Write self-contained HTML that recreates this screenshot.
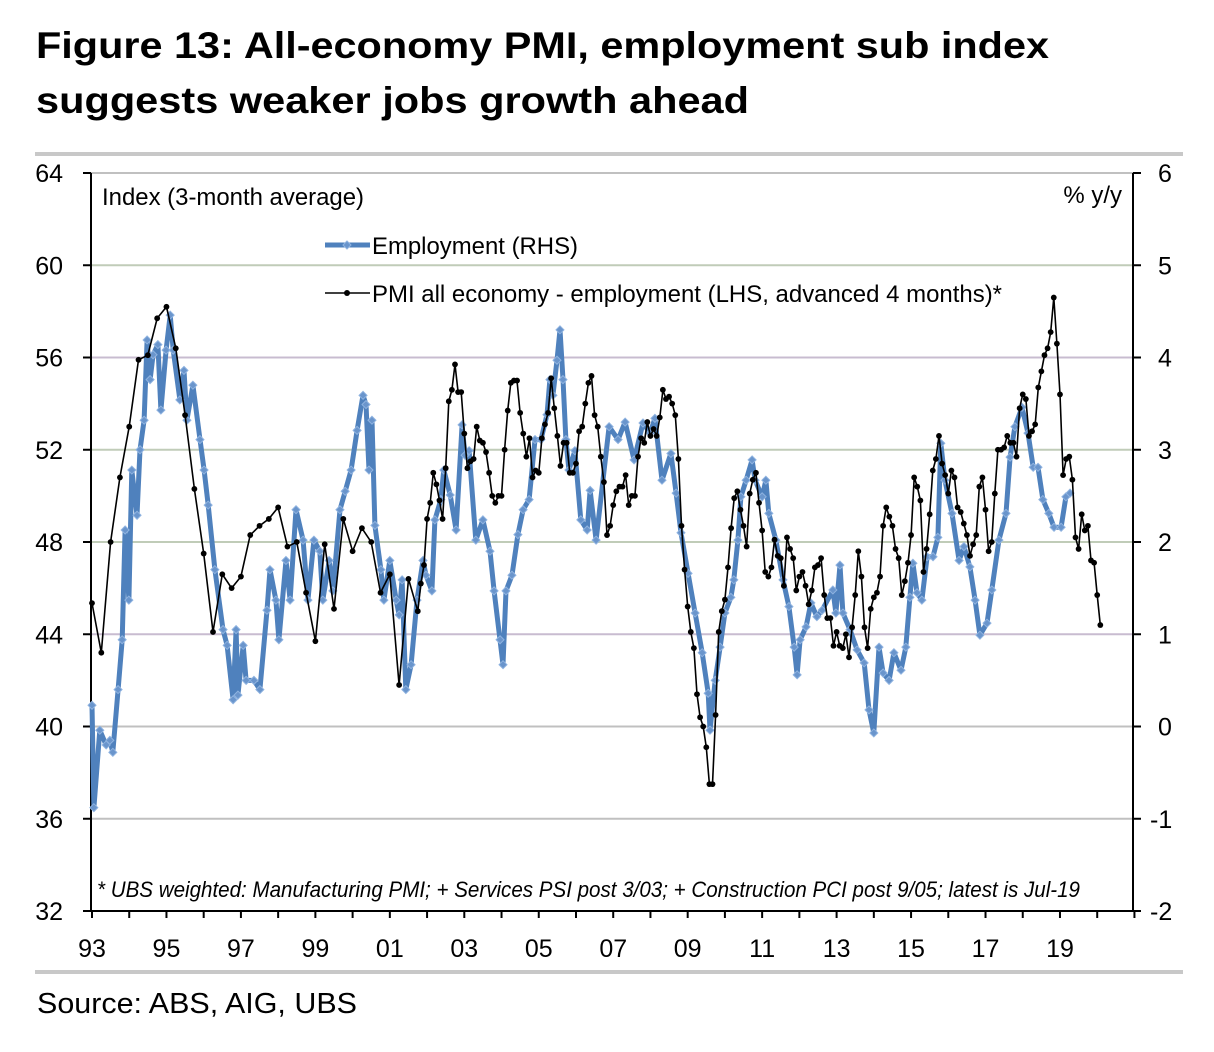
<!DOCTYPE html>
<html><head><meta charset="utf-8">
<style>
html,body{margin:0;padding:0;background:#fff;}
body{width:1214px;height:1052px;overflow:hidden;position:relative;font-family:"Liberation Sans",sans-serif;}
svg{position:absolute;left:0;top:0;}
</style></head>
<body>
<svg id="chart" width="1214" height="1052">
<text x="36" y="58" font-size="37" font-weight="bold" textLength="1013" lengthAdjust="spacingAndGlyphs">Figure 13: All-economy PMI, employment sub index</text>
<text x="36" y="113" font-size="37" font-weight="bold" textLength="713" lengthAdjust="spacingAndGlyphs">suggests weaker jobs growth ahead</text>
<text x="37" y="1013" font-size="29" textLength="320" lengthAdjust="spacingAndGlyphs">Source:  ABS, AIG, UBS</text>
</svg>
<script>
const pmiQuarterlyStart = 1993.0;
const pmiQuarterly = [45.35,43.2,48.0,50.8,53.0,55.9,56.1,57.7,58.2,56.4,53.5,50.3,47.5,44.1,46.6,46.0,46.5,48.3,48.7,49.0,49.5,47.8,48.0,45.8,43.7,47.9,45.1,49.0,47.6,48.6,48.0,45.8,46.6,41.8,46.4];
const pmiMonthlyStart = 2001.75;
const pmiMonthly = [45.0,46.2,47.0,49.0,49.7,51.0,50.5,49.8,49.0,51.2,54.1,54.6,55.7,54.5,54.5,52.7,51.2,51.5,51.6,53.0,52.4,52.3,51.9,51.0,50.0,49.7,50.0,50.0,52.0,53.7,54.9,55.0,55.0,53.6,52.7,51.7,52.5,50.8,51.1,51.0,52.5,53.1,53.6,55.1,53.8,52.6,51.3,52.3,52.3,51.0,51.0,51.4,52.8,53.0,54.0,54.9,55.2,53.5,53.0,51.7,50.6,
48.3,48.7,49.6,50.2,50.4,50.4,50.9,49.6,50.0,50.0,51.7,52.5,52.3,53.2,52.6,52.9,52.6,53.4,54.6,54.2,54.3,54.0,53.5,51.6,48.7,46.8,45.2,44.1,43.4,41.4,40.4,40.0,39.1,37.5,37.5,40.5,44.1,45.0,45.5,46.9,48.6,49.9,50.2,49.4,48.7,47.8,50.1,50.7,51.0,49.7,48.5,46.7,46.5,46.9,48.1,47.4,47.3,46.1,48.2,47.7,47.3,45.9,46.5,46.7,46.1,45.3,45.9,46.9,47.0,47.3,45.7,44.7,44.7,43.5,44.1,43.5,43.4,44.0,43.0,44.3,45.7,47.6,46.5,44.3,43.4,45.1,45.6,45.8,46.5,48.7,49.5,49.1,48.7,47.7,47.3,45.7,46.3,47.1,48.3,50.8,50.4,49.8,46.7,47.7,49.2,51.1,51.6,52.6,51.4,50.9,50.1,51.1,50.8,49.5,49.3,48.8,48.3,47.4,47.9,48.3,50.4,50.8,49.4,47.6,48.0,50.1,52.0,52.0,52.1,52.6,52.3,52.3,51.7,53.8,54.4,54.2,52.6,52.8,53.1,54.7,55.4,56.1,56.4,57.1,58.6,56.6,54.4,50.9,51.6,51.7,50.7,48.2,47.7,49.2,48.5,48.7,47.2,47.1,45.7,44.4];
const empDates = [1993.0,1993.05,1993.21,1993.38,1993.48,1993.56,1993.70,1993.81,1993.89,1993.99,1994.07,1994.21,1994.29,1994.40,1994.48,1994.56,1994.64,1994.77,1994.85,1994.99,1995.10,1995.18,1995.36,1995.47,1995.55,1995.71,1995.90,1996.01,1996.12,1996.30,1996.52,1996.63,1996.79,1996.87,1996.92,1997.06,1997.14,1997.35,1997.51,1997.70,1997.78,1997.94,1998.02,1998.21,1998.32,1998.48,1998.67,1998.80,1998.96,1999.12,1999.20,1999.37,1999.47,1999.66,1999.80,1999.96,2000.12,2000.28,2000.36,2000.44,2000.52,2000.60,2000.76,2000.84,2001.00,2001.17,2001.25,2001.33,2001.43,2001.57,2001.73,2001.89,2001.97,2002.13,2002.21,2002.37,2002.45,2002.62,2002.78,2002.94,2003.02,2003.13,2003.31,2003.50,2003.69,2003.80,2003.96,2004.04,2004.12,2004.28,2004.44,2004.58,2004.74,2004.90,2005.06,2005.22,2005.30,2005.38,2005.49,2005.57,2005.65,2005.73,2005.81,2005.97,2006.13,2006.30,2006.38,2006.54,2006.89,2007.13,2007.32,2007.56,2007.80,2007.99,2008.12,2008.31,2008.55,2008.69,2008.82,2009.01,2009.20,2009.39,2009.55,2009.60,2009.74,2009.87,2010.00,2010.16,2010.24,2010.35,2010.43,2010.57,2010.73,2010.81,2011.00,2011.10,2011.18,2011.37,2011.56,2011.72,2011.86,2011.94,2012.02,2012.18,2012.31,2012.47,2012.61,2012.90,2012.98,2013.09,2013.17,2013.36,2013.55,2013.74,2013.87,2014.00,2014.14,2014.25,2014.41,2014.54,2014.73,2014.86,2014.97,2015.05,2015.16,2015.29,2015.43,2015.59,2015.72,2015.80,2015.91,2016.10,2016.29,2016.42,2016.58,2016.72,2016.85,2017.04,2017.17,2017.36,2017.55,2017.66,2017.79,2017.98,2018.14,2018.28,2018.41,2018.54,2018.70,2018.84,2019.03,2019.16,2019.27];
const empValues = [0.23,-0.88,-0.04,-0.20,-0.15,-0.28,0.40,0.94,2.13,1.37,2.78,2.29,3.0,3.32,4.19,3.76,4.03,4.14,3.43,4.08,4.46,4.08,3.54,3.86,3.32,3.70,3.11,2.78,2.40,1.70,1.05,0.88,0.29,1.05,0.34,0.88,0.50,0.50,0.40,1.26,1.70,1.37,0.94,1.80,1.37,2.35,2.02,1.37,2.02,1.90,1.37,1.80,1.47,2.35,2.55,2.78,3.21,3.59,3.49,2.78,3.32,2.18,1.70,1.37,1.80,1.37,1.21,1.59,0.40,0.67,1.37,1.80,1.64,1.47,2.24,2.46,2.78,2.51,2.13,3.27,2.94,2.99,2.02,2.24,1.90,1.47,0.94,0.67,1.47,1.64,2.08,2.35,2.46,3.11,3.11,3.38,3.76,3.59,3.97,4.30,3.76,3.11,2.78,2.99,2.24,2.13,2.56,2.02,3.25,3.11,3.30,2.89,3.29,3.18,3.34,2.67,2.96,2.53,2.10,1.66,1.23,0.80,0.36,-0.04,0.50,0.86,1.23,1.40,1.59,2.02,2.49,2.67,2.89,2.67,2.49,2.67,2.31,2.02,1.59,1.30,0.86,0.56,0.94,1.08,1.34,1.19,1.26,1.48,1.23,1.75,1.23,1.05,0.83,0.69,0.18,-0.07,0.86,0.58,0.50,0.80,0.61,0.86,1.40,1.77,1.45,1.37,1.84,1.84,2.05,3.07,2.67,2.31,1.80,1.95,1.73,1.37,0.99,1.12,1.48,2.02,2.31,2.92,3.25,3.46,3.18,2.81,2.81,2.46,2.31,2.16,2.16,2.49,2.53];
const leftTicks = [64,60,56,52,48,44,40,36,32];
const rightTicks = [6,5,4,3,2,1,0,-1,-2];
const xTickLabels = ["93","95","97","99","01","03","05","07","09","11","13","15","17","19"];
const xTickYears = [1993,1995,1997,1999,2001,2003,2005,2007,2009,2011,2013,2015,2017,2019];

const NS="http://www.w3.org/2000/svg";
const svg=document.getElementById('chart');
const PL=91, PR=1133, PT=173, PB=911;
const xS = yr => 92 + (yr-1993)*37.23;
const yL = v => PT + (64-v)*(PB-PT)/32;
const yR = v => PT + (6-v)*(PB-PT)/8;
function mk(tag, attrs, parent){const e=document.createElementNS(NS,tag);for(const k in attrs)e.setAttribute(k,attrs[k]);(parent||svg).appendChild(e);return e;}

let sep1=mk('rect',{x:35,y:152,width:1148,height:4,fill:'#c8c8c8'});


let sep2=mk('rect',{x:35,y:970,width:1148,height:4,fill:'#c8c8c8'});



const gridColors=['#c0c0c0','#c0ccb8','#c8bcd0','#c0ccb8','#c0ccb8','#c8bcd0','#c0c0c0','#c0c0c0'];
leftTicks.forEach((v,i)=>{
  if(v===32) return;
  const g=mk('line',{x1:PL,x2:PR,y1:yL(v),y2:yL(v),stroke:gridColors[i]||'#c0c0c0','stroke-width':2});
  
  
});

const ax=mk('g',{stroke:'#000','stroke-width':2});


mk('line',{x1:PL,x2:PL,y1:PT,y2:PB},ax);
mk('line',{x1:PR,x2:PR,y1:PT,y2:PB},ax);
mk('line',{x1:PL,x2:PR,y1:PB,y2:PB},ax);
leftTicks.forEach(v=>{
  mk('line',{x1:PL-8,x2:PL,y1:yL(v),y2:yL(v)},ax);
  const t=mk('text',{x:63,y:yL(v)+9,'text-anchor':'end','font-size':25,fill:'#000',stroke:'none'});
  t.textContent=v;
  
  
});
rightTicks.forEach(v=>{
  mk('line',{x1:PR,x2:PR+8,y1:yR(v),y2:yR(v)},ax);
  const t=mk('text',{x:v<0?1150:1158,y:yR(v)+9,'text-anchor':'start','font-size':25,fill:'#000',stroke:'none'});
  t.textContent=v;
  
  
});
for(let yr=1993; yr<=2021; yr++){
  mk('line',{x1:xS(yr),x2:xS(yr),y1:PB,y2:PB+7},ax);
}
xTickYears.forEach((yr,i)=>{
  const t=mk('text',{x:xS(yr),y:957,'text-anchor':'middle','font-size':25,fill:'#000',stroke:'none'});
  t.textContent=xTickLabels[i];
  
  
});

let lt=mk('text',{x:102,y:205,'font-size':24,fill:'#000',textLength:262,lengthAdjust:'spacingAndGlyphs'});
lt.textContent='Index (3-month average)';


let rt=mk('text',{x:1122,y:203,'font-size':24,fill:'#000','text-anchor':'end'});
rt.textContent='% y/y';



const empPts=empDates.map((d,i)=>xS(d).toFixed(1)+','+yR(empValues[i]).toFixed(1)).join(' ');
const emp=mk('polyline',{points:empPts,fill:'none',stroke:'#4f81bd','stroke-width':5,'stroke-linejoin':'round'});


const empM=mk('g',{fill:'#6a95cc',stroke:'#8fb3e0','stroke-width':1});


empDates.forEach((d,i)=>{
  const x=xS(d), y=yR(empValues[i]);
  mk('polygon',{points:`${x},${y-4} ${x+4},${y} ${x},${y+4} ${x-4},${y}`},empM);
});

const pmiX=[], pmiY=[];
pmiQuarterly.forEach((v,i)=>{pmiX.push(xS(pmiQuarterlyStart+i*0.25));pmiY.push(yL(v));});
pmiMonthly.forEach((v,i)=>{pmiX.push(xS(pmiMonthlyStart+i/12));pmiY.push(yL(v));});
const pmi=mk('polyline',{points:pmiX.map((x,i)=>x.toFixed(1)+','+pmiY[i].toFixed(1)).join(' '),fill:'none',stroke:'#000','stroke-width':1.6});


const pmiM=mk('g',{fill:'#000'});


pmiX.forEach((x,i)=>mk('circle',{cx:x,cy:pmiY[i],r:2.9},pmiM));

const lg=mk('g',{});


const l1=mk('g',{},lg);


mk('line',{x1:325,x2:370,y1:245,y2:245,stroke:'#4f81bd','stroke-width':5},l1);
mk('polygon',{points:'347,241 351,245 347,249 343,245',fill:'#6a95cc',stroke:'#8fb3e0'},l1);
const lt1=mk('text',{x:372,y:254,'font-size':24,fill:'#000',textLength:206,lengthAdjust:'spacingAndGlyphs'},l1);
lt1.textContent='Employment (RHS)';
const l2=mk('g',{},lg);


mk('line',{x1:325,x2:370,y1:293,y2:293,stroke:'#000','stroke-width':1.6},l2);
mk('circle',{cx:347,cy:293,r:3},l2);
const lt2=mk('text',{x:372,y:302,'font-size':24,fill:'#000',textLength:630,lengthAdjust:'spacingAndGlyphs'},l2);
lt2.textContent='PMI all economy - employment (LHS, advanced 4 months)*';

const fn=mk('text',{x:97,y:897,'font-size':22,'font-style':'italic',fill:'#000',textLength:983,lengthAdjust:'spacingAndGlyphs'});
fn.textContent='* UBS weighted: Manufacturing PMI; + Services PSI post 3/03; + Construction PCI post 9/05; latest is Jul-19';


</script>
</body></html>
